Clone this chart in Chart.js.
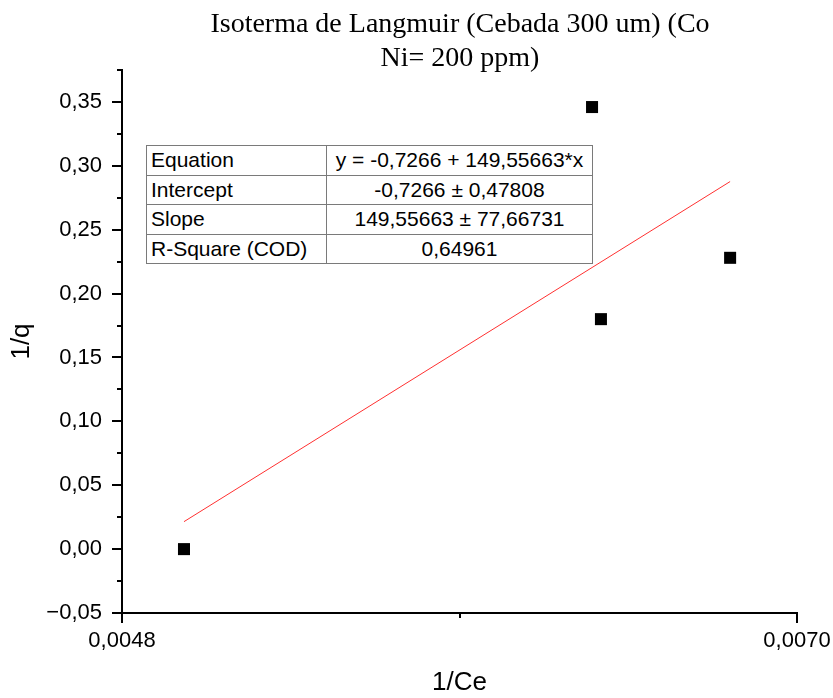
<!DOCTYPE html>
<html>
<head>
<meta charset="utf-8">
<script src="https://cdn.jsdelivr.net/npm/chart.js@4.4.1/dist/chart.umd.min.js"></script>
<style>
  body { margin: 0; background: #fff; }
  #wrap { position: relative; width: 833px; height: 698px; }
  #title {
    position: absolute; left: 160px; top: 6px; width: 600px;
    text-align: center; font-family: "Liberation Serif", "Times New Roman", serif;
    font-size: 28px; line-height: 34px; color: #000;
  }
  #fit {
    position: absolute; left: 146px; top: 145px; width: 447px;
    border-collapse: collapse; font-family: "Liberation Sans", Arial, sans-serif;
    font-size: 21px; color: #000; background: #fff;
  }
  #fit td { border: 1px solid #7a7a7a; height: 28.5px; padding: 0 4px; white-space: nowrap; }
  #fit td:first-child { width: 171px; }
  #fit td:last-child { text-align: center; }
</style>
</head>
<body>
<div id="wrap">
  <canvas id="isoChart" width="833" height="698"></canvas>
  <div id="title">Isoterma de Langmuir (Cebada 300 um) (Co<br>Ni= 200 ppm)</div>
  <table id="fit">
    <tr><td>Equation</td><td>y = -0,7266 + 149,55663*x</td></tr>
    <tr><td>Intercept</td><td>-0,7266 ± 0,47808</td></tr>
    <tr><td>Slope</td><td>149,55663 ± 77,66731</td></tr>
    <tr><td>R-Square (COD)</td><td>0,64961</td></tr>
  </table>
</div>
<script>
// 1/Ce vs 1/q
const invCe = [0.005002, 0.006332, 0.006361, 0.006782];
const invQ = [0.000, 0.346, 0.180, 0.228];

// ajuste lineal
const intercept = -0.7266;
const slope = 149.55663;

const xTicksMajor = [0.0048, 0.0070];

const fmtNum = (v, d) => {
    const s = Math.abs(v).toFixed(d).replace('.', ',');
    return (v < -1e-9 ? '\u2212' : '') + s;
};

const points = invCe.map((x, i) => ({ x: x, y: invQ[i] }));
const xFirst = Math.min(...invCe);
const xLast = Math.max(...invCe);
const fitLine = [xFirst, xLast].map(x => ({ x: x, y: intercept + slope * x }));

// marcas de eje: mayores largas, menores cortas
const tickMarks = {
    id: 'tickMarks',
    afterDraw(chart) {
        const ctx = chart.ctx;
        ctx.save();
        ctx.strokeStyle = '#000';
        ctx.lineWidth = 2;
        const ys = chart.scales.y;
        ys.ticks.forEach(t => {
            const p = Math.round(ys.getPixelForValue(t.value));
            const len = t.label !== '' ? 10 : 5;
            ctx.beginPath();
            ctx.moveTo(ys.right - len, p);
            ctx.lineTo(ys.right, p);
            ctx.stroke();
        });
        const xs = chart.scales.x;
        xs.ticks.forEach(t => {
            const p = Math.round(xs.getPixelForValue(t.value));
            const len = t.label !== '' ? 10 : 5;
            ctx.beginPath();
            ctx.moveTo(p, xs.top);
            ctx.lineTo(p, xs.top + len);
            ctx.stroke();
        });
        ctx.restore();
    }
};

const sansFont = '"Liberation Sans", Arial, sans-serif';

new Chart(document.getElementById('isoChart').getContext('2d'), {
    type: 'scatter',
    data: {
        datasets: [{
            data: points,
            pointStyle: 'rect',
            pointRadius: 8.5,
            backgroundColor: '#000',
            borderWidth: 0
        }, {
            type: 'line',
            data: fitLine,
            borderColor: '#ff3030',
            borderWidth: 1,
            pointRadius: 0,
            fill: false
        }]
    },
    options: {
        responsive: false,
        animation: false,
        layout: { padding: { top: 70, right: 36, left: 0, bottom: 0 } },
        plugins: { legend: { display: false }, tooltip: { enabled: false } },
        scales: {
            x: {
                type: 'linear',
                min: 0.0048,
                max: 0.0070,
                afterFit: s => { s.height = 85; s.paddingLeft = 0; s.paddingRight = 0; },
                border: { color: '#000', width: 2 },
                grid: { drawOnChartArea: false, drawTicks: true, tickLength: 10, tickColor: 'rgba(0,0,0,0)' },
                ticks: {
                    stepSize: 0.0011,
                    padding: 5,
                    color: '#000',
                    maxRotation: 0,
                    font: { family: sansFont, size: 22 },
                    callback: v => xTicksMajor.some(m => Math.abs(m - v) < 1e-7) ? fmtNum(v, 4) : ''
                },
                title: {
                    display: true,
                    text: '1/Ce',
                    color: '#000',
                    font: { family: sansFont, size: 26 },
                    padding: { top: 0, bottom: 0 }
                }
            },
            y: {
                min: -0.05,
                max: 0.375,
                afterFit: s => { s.width = 122; },
                border: { color: '#000', width: 2 },
                grid: { drawOnChartArea: false, drawTicks: true, tickLength: 10, tickColor: 'rgba(0,0,0,0)' },
                ticks: {
                    stepSize: 0.025,
                    padding: 10,
                    color: '#000',
                    font: { family: sansFont, size: 22 },
                    callback: v => Math.round(v / 0.025) % 2 === 0 ? fmtNum(v, 2) : ''
                },
                title: {
                    display: true,
                    text: '1/q',
                    color: '#000',
                    font: { family: sansFont, size: 26 },
                    padding: { top: 6, bottom: 0 }
                }
            }
        }
    },
    plugins: [tickMarks]
});
</script>
</body>
</html>
